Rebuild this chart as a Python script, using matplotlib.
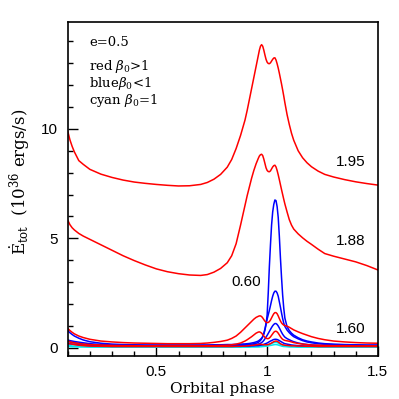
import matplotlib
matplotlib.use("Agg")
import matplotlib.pyplot as plt
from matplotlib.ticker import MultipleLocator

plt.rcParams['mathtext.fontset'] = 'dejavuserif'

phase = [0.10, 0.11, 0.12, 0.13, 0.15, 0.17, 0.20, 0.25, 0.30, 0.35,
         0.40, 0.45, 0.50, 0.55, 0.60, 0.65, 0.70, 0.73, 0.76, 0.79,
         0.82, 0.84, 0.86, 0.88, 0.90, 0.91, 0.92, 0.93, 0.94, 0.95,
         0.96, 0.965, 0.97, 0.975, 0.98, 0.985, 0.99, 0.995, 1.00, 1.005,
         1.01, 1.015, 1.02, 1.025, 1.03, 1.035, 1.04, 1.045, 1.05, 1.055,
         1.06, 1.065, 1.07, 1.075, 1.08, 1.09, 1.10, 1.11, 1.12, 1.14,
         1.16, 1.18, 1.20, 1.23, 1.26, 1.30, 1.35, 1.40, 1.45, 1.50]

red_195 = [9.90, 9.50, 9.20, 8.95, 8.55, 8.38, 8.15, 7.93, 7.78, 7.66,
           7.57, 7.51, 7.46, 7.42, 7.39, 7.40, 7.46, 7.55, 7.70, 7.92,
           8.25, 8.60, 9.10, 9.70, 10.40, 10.85, 11.35, 11.85, 12.35, 12.85,
           13.35, 13.60, 13.78, 13.85, 13.78, 13.60, 13.38, 13.18, 13.05, 12.99,
           12.98, 13.02, 13.10, 13.18, 13.24, 13.25, 13.15, 12.98, 12.78, 12.55,
           12.30, 12.05, 11.78, 11.50, 11.20, 10.65, 10.20, 9.80, 9.48, 9.00,
           8.68, 8.45, 8.27, 8.07, 7.92, 7.80, 7.68, 7.58, 7.50, 7.43]

red_188 = [5.83, 5.62, 5.48, 5.38, 5.22, 5.10, 4.95, 4.70, 4.45, 4.20,
           3.98, 3.78, 3.60, 3.47, 3.38, 3.32, 3.30, 3.34, 3.45, 3.62,
           3.88, 4.20, 4.75, 5.60, 6.50, 6.95, 7.35, 7.75, 8.10, 8.40,
           8.65, 8.76, 8.82, 8.84, 8.78, 8.62, 8.42, 8.22, 8.10, 8.05,
           8.04, 8.08, 8.17, 8.26, 8.32, 8.34, 8.26, 8.10, 7.90, 7.68,
           7.45, 7.22, 7.00, 6.78, 6.57, 6.20, 5.85, 5.60, 5.42, 5.20,
           5.02, 4.86, 4.72, 4.50, 4.30, 4.18, 4.05, 3.92, 3.75, 3.55]

red_160 = [0.88, 0.78, 0.70, 0.63, 0.53, 0.46, 0.38, 0.30, 0.26, 0.23,
           0.21, 0.20, 0.19, 0.18, 0.18, 0.18, 0.19, 0.21, 0.24, 0.28,
           0.34, 0.42, 0.53, 0.70, 0.90, 1.00, 1.10, 1.20, 1.30, 1.38,
           1.43, 1.45, 1.45, 1.42, 1.36, 1.28, 1.21, 1.16, 1.14, 1.15,
           1.19, 1.26, 1.36, 1.46, 1.55, 1.60, 1.60, 1.55, 1.45, 1.33,
           1.22, 1.13, 1.07, 1.03, 1.01, 0.98, 0.93, 0.87, 0.81, 0.72,
           0.64, 0.57, 0.50, 0.42, 0.36, 0.30, 0.26, 0.23, 0.21, 0.20]

red_4 = [0.30, 0.27, 0.24, 0.22, 0.19, 0.16, 0.14, 0.12, 0.10, 0.09,
         0.09, 0.08, 0.08, 0.08, 0.08, 0.08, 0.08, 0.09, 0.09, 0.10,
         0.11, 0.13, 0.16, 0.21, 0.30, 0.36, 0.43, 0.50, 0.58, 0.66,
         0.71, 0.72, 0.70, 0.66, 0.60, 0.53, 0.47, 0.43, 0.41, 0.41,
         0.44, 0.49, 0.56, 0.63, 0.70, 0.74, 0.75, 0.72, 0.66, 0.58,
         0.50, 0.43, 0.38, 0.35, 0.33, 0.31, 0.29, 0.26, 0.23, 0.19,
         0.16, 0.14, 0.12, 0.11, 0.10, 0.09, 0.09, 0.08, 0.08, 0.08]

red_5 = [0.20, 0.18, 0.16, 0.14, 0.11, 0.09, 0.07, 0.06, 0.05, 0.05,
         0.05, 0.05, 0.05, 0.05, 0.05, 0.05, 0.05, 0.05, 0.05, 0.05,
         0.05, 0.05, 0.06, 0.06, 0.07, 0.08, 0.09, 0.10, 0.11, 0.13,
         0.14, 0.15, 0.15, 0.15, 0.14, 0.13, 0.13, 0.13, 0.13, 0.14,
         0.16, 0.18, 0.21, 0.24, 0.27, 0.29, 0.30, 0.29, 0.26, 0.22,
         0.18, 0.15, 0.13, 0.12, 0.11, 0.10, 0.09, 0.08, 0.08, 0.07,
         0.07, 0.06, 0.06, 0.05, 0.05, 0.05, 0.05, 0.05, 0.05, 0.05]

blue_1 = [0.78, 0.68, 0.60, 0.53, 0.43, 0.35, 0.27, 0.20, 0.16, 0.14,
          0.13, 0.12, 0.12, 0.12, 0.12, 0.12, 0.12, 0.12, 0.13, 0.13,
          0.14, 0.14, 0.15, 0.16, 0.17, 0.18, 0.19, 0.21, 0.23, 0.26,
          0.30, 0.34, 0.38, 0.43, 0.50, 0.62, 0.80, 1.05, 1.50, 2.50,
          3.70, 4.70, 5.60, 6.20, 6.55, 6.75, 6.72, 6.45, 5.95, 5.10,
          4.10, 3.20, 2.40, 1.80, 1.35, 0.95, 0.78, 0.66, 0.57, 0.45,
          0.36, 0.30, 0.26, 0.21, 0.18, 0.16, 0.14, 0.13, 0.12, 0.12]

blue_2 = [0.35, 0.32, 0.30, 0.28, 0.25, 0.22, 0.18, 0.14, 0.12, 0.11,
          0.10, 0.10, 0.10, 0.10, 0.10, 0.10, 0.10, 0.10, 0.10, 0.10,
          0.11, 0.11, 0.12, 0.12, 0.13, 0.14, 0.15, 0.16, 0.18, 0.20,
          0.24, 0.28, 0.33, 0.40, 0.50, 0.65, 0.85, 1.10, 1.30, 1.50,
          1.70, 1.92, 2.15, 2.35, 2.50, 2.58, 2.58, 2.50, 2.35, 2.10,
          1.85, 1.58, 1.33, 1.12, 0.97, 0.80, 0.68, 0.58, 0.50, 0.40,
          0.32, 0.26, 0.22, 0.18, 0.15, 0.13, 0.12, 0.11, 0.10, 0.10]

blue_3 = [0.28, 0.26, 0.24, 0.22, 0.19, 0.16, 0.13, 0.11, 0.09, 0.08,
          0.08, 0.08, 0.08, 0.08, 0.08, 0.08, 0.08, 0.08, 0.08, 0.08,
          0.08, 0.08, 0.09, 0.09, 0.10, 0.10, 0.11, 0.12, 0.13, 0.14,
          0.16, 0.18, 0.20, 0.23, 0.27, 0.33, 0.40, 0.48, 0.56, 0.65,
          0.74, 0.83, 0.92, 1.00, 1.06, 1.10, 1.10, 1.06, 0.99, 0.90,
          0.80, 0.70, 0.61, 0.54, 0.48, 0.41, 0.36, 0.31, 0.27, 0.21,
          0.17, 0.14, 0.12, 0.10, 0.09, 0.08, 0.08, 0.08, 0.08, 0.08]

blue_4 = [0.18, 0.17, 0.16, 0.15, 0.13, 0.11, 0.09, 0.07, 0.06, 0.06,
          0.06, 0.06, 0.06, 0.06, 0.06, 0.06, 0.06, 0.06, 0.06, 0.06,
          0.06, 0.06, 0.06, 0.06, 0.07, 0.07, 0.07, 0.08, 0.08, 0.09,
          0.09, 0.10, 0.11, 0.12, 0.13, 0.15, 0.17, 0.19, 0.21, 0.24,
          0.27, 0.30, 0.32, 0.35, 0.37, 0.38, 0.38, 0.37, 0.35, 0.32,
          0.29, 0.26, 0.23, 0.20, 0.18, 0.16, 0.14, 0.12, 0.11, 0.09,
          0.08, 0.07, 0.07, 0.06, 0.06, 0.06, 0.06, 0.06, 0.06, 0.06]

cyan_1 = [0.10, 0.09, 0.08, 0.07, 0.06, 0.05, 0.05, 0.04, 0.04, 0.04,
          0.04, 0.04, 0.04, 0.04, 0.04, 0.04, 0.04, 0.04, 0.04, 0.04,
          0.04, 0.04, 0.04, 0.04, 0.04, 0.04, 0.05, 0.05, 0.05, 0.05,
          0.06, 0.06, 0.07, 0.07, 0.08, 0.09, 0.10, 0.11, 0.12, 0.14,
          0.15, 0.17, 0.19, 0.21, 0.23, 0.24, 0.24, 0.23, 0.21, 0.18,
          0.15, 0.13, 0.11, 0.10, 0.09, 0.07, 0.06, 0.06, 0.05, 0.05,
          0.04, 0.04, 0.04, 0.04, 0.04, 0.04, 0.04, 0.04, 0.04, 0.04]

cyan_2 = [0.05, 0.05, 0.04, 0.04, 0.03, 0.03, 0.02, 0.02, 0.02, 0.02,
          0.02, 0.02, 0.02, 0.02, 0.02, 0.02, 0.02, 0.02, 0.02, 0.02,
          0.02, 0.02, 0.02, 0.02, 0.02, 0.02, 0.02, 0.03, 0.03, 0.03,
          0.03, 0.03, 0.04, 0.04, 0.05, 0.05, 0.06, 0.06, 0.07, 0.08,
          0.09, 0.10, 0.11, 0.12, 0.13, 0.14, 0.14, 0.13, 0.12, 0.10,
          0.09, 0.07, 0.06, 0.05, 0.05, 0.04, 0.03, 0.03, 0.03, 0.02,
          0.02, 0.02, 0.02, 0.02, 0.02, 0.02, 0.02, 0.02, 0.02, 0.02]

red_curves = [red_195, red_188, red_160, red_4, red_5]
blue_curves = [blue_1, blue_2, blue_3, blue_4]
cyan_curves = [cyan_1, cyan_2]

curve_labels = ["1.95", "1.88", "0.60", "1.60"]
label_x = [1.378, 1.378, 0.905, 1.378]
label_y = [8.48, 4.89, 3.01, 0.84]

legend_lines = ["e=0.5", r"red $\beta_0$>1", r"blue$\beta_0$<1", r"cyan $\beta_0$=1"]
legend_y = [13.93, 12.83, 12.09, 11.30]

fig = plt.figure(figsize=(3.99, 3.99), dpi=100)
ax = fig.add_axes([0.1697, 0.1085, 0.7775, 0.8371])

for c in cyan_curves:
    ax.plot(phase, c, color='#00e8f0', lw=1.1)
for c in blue_curves:
    ax.plot(phase, c, color='#0000ff', lw=1.1)
for c in red_curves:
    ax.plot(phase, c, color='#ff0000', lw=1.1)

ax.set_xlim(0.1, 1.5)
ax.set_ylim(-0.37, 14.9)

ax.xaxis.set_minor_locator(MultipleLocator(0.1))
ax.yaxis.set_major_locator(MultipleLocator(5))
ax.yaxis.set_minor_locator(MultipleLocator(1))
ax.set_xticks([0.5, 1.0, 1.5])
ax.set_xticklabels(["0.5", "1", "1.5"])
ax.tick_params(which='both', direction='in', top=False, right=False, width=1.0)
ax.tick_params(which='major', length=7, pad=7, labelsize=11)
ax.tick_params(which='minor', length=3.6)
for lab in ax.get_xticklabels() + ax.get_yticklabels():
    lab.set_family('Liberation Sans')
for s in ax.spines.values():
    s.set_linewidth(1.2)

ax.set_xlabel("Orbital phase", family='DejaVu Serif', fontsize=11, labelpad=2)
ax.set_ylabel(r"$\dot{\mathrm{E}}_{\mathrm{tot}}$  (10$^{36}$ ergs/s)",
              family='DejaVu Serif', fontsize=12)
ax.yaxis.set_label_coords(-0.115, 0.52)

for t, x, y in zip(curve_labels, label_x, label_y):
    ax.text(x, y, t, ha='center', va='center', fontsize=11, family='Liberation Sans')

for t, y in zip(legend_lines, legend_y):
    ax.text(0.197, y, t, ha='left', va='center', fontsize=9.5, family='DejaVu Serif')

fig.savefig("out.png", dpi=100)
